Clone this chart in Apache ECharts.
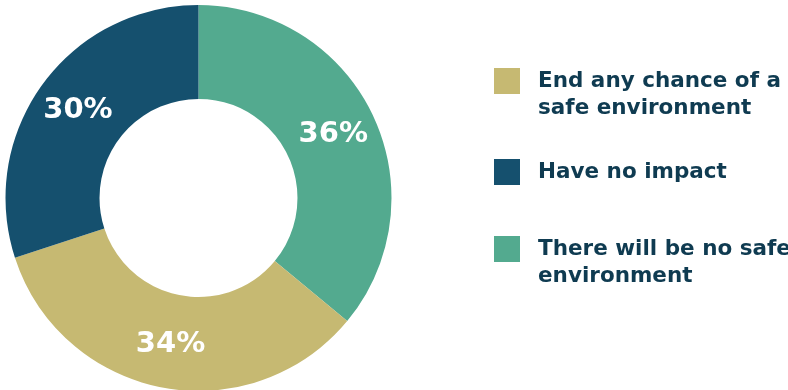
<!DOCTYPE html>
<html>
<head>
<meta charset="utf-8">
<script src="https://cdn.jsdelivr.net/npm/echarts@6/dist/echarts.min.js"></script>
<style>
  html, body { margin: 0; padding: 0; background: #ffffff; }
  #chart { width: 788px; height: 390px; }
</style>
</head>
<body>
<div id="chart"></div>
<script>
// Answer categories, in legend order
const categories = [
  'End any chance of a\nsafe environment',
  'Have no impact',
  'There will be no safe\nenvironment'
];
// Share of responses (%)
const values = [34, 30, 36];
// Slice / legend colours
const colors = ['#c6b972', '#15506e', '#53aa8f'];
// Order of the slices around the ring, clockwise from 12 o'clock
const ringOrder = [2, 0, 1];

const FONT = '"DejaVu Sans", sans-serif';
const TEXT_DARK = '#0f3b51';

// Legend item tops (one legend component per entry so each row can be placed)
const legendTops = [38, 156, 206];

const chart = echarts.init(document.getElementById('chart'), null, { renderer: 'canvas' });

const legends = categories.map((name, i) => ({
  data: [name],
  orient: 'vertical',
  left: 494,
  top: legendTops[i],
  padding: 0,
  itemWidth: 26,
  itemHeight: 26,
  itemGap: 0,
  icon: 'rect',
  selectedMode: false,
  // multi-line entries keep their first line level with the swatch
  formatter: n => (n.indexOf('\n') >= 0 ? '\n' + n : n),
  textStyle: {
    color: TEXT_DARK,
    fontFamily: FONT,
    fontWeight: 'bold',
    fontSize: 21.5,
    lineHeight: 27,
    padding: [5, 0, 0, 13]
  }
}));

chart.setOption({
  animation: false,
  legend: legends,
  series: [{
    type: 'pie',
    center: [198.5, 198],
    radius: [99, 193],
    startAngle: 90,
    clockwise: true,
    avoidLabelOverlap: false,
    emphasis: { disabled: true },
    itemStyle: { borderWidth: 0 },
    labelLine: { show: false },
    label: {
      show: true,
      position: 'inside',
      formatter: '{c}%',
      color: '#ffffff',
      fontFamily: FONT,
      fontWeight: 'bold',
      fontSize: 29
    },
    data: ringOrder.map(i => ({
      name: categories[i],
      value: values[i],
      itemStyle: { color: colors[i] }
    }))
  }]
});
</script>
</body>
</html>
